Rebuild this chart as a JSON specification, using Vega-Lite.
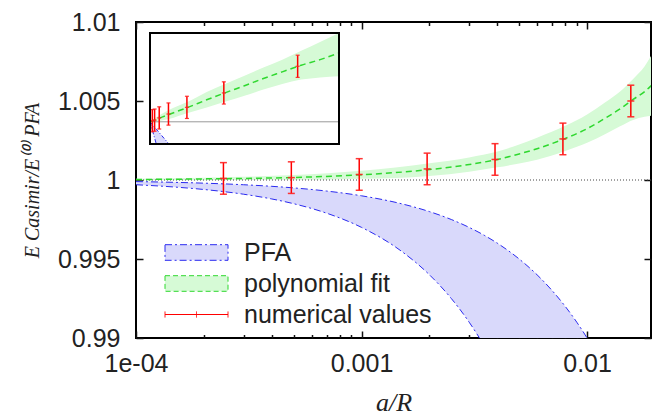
{
  "$schema": "https://vega.github.io/schema/vega-lite/v6.json",
  "width": 515,
  "height": 316,
  "autosize": {"type": "none"},
  "padding": {"left": 136, "top": 22, "right": 1, "bottom": 82},
  "background": "white",
  "config": {
    "view": {"stroke": "black", "strokeWidth": 2},
    "axis": {
      "domain": false, "grid": false,
      "labelFont": "Liberation Sans", "labelFontSize": 25, "labelColor": "#222",
      "tickColor": "#111", "tickWidth": 1.5,
      "titleFont": "Liberation Serif", "titleFontStyle": "italic", "titleFontWeight": "normal", "titleColor": "#222"
    },
    "legend": {
      "orient": "none", "legendX": 48, "legendY": 218, "padding": 0,
      "labelFont": "Liberation Sans", "labelFontSize": 25, "labelColor": "#222", "labelLimit": 400,
      "symbolSize": 400, "symbolStrokeWidth": 1, "rowPadding": 5, "labelOffset": 35
    }
  },
  "datasets": {
    "pfa": [
      {"x": 0.0001, "hi": 0.9999, "lo": 0.9997},
      {"x": 0.00015, "hi": 0.99985, "lo": 0.99955},
      {"x": 0.0002, "hi": 0.9998, "lo": 0.9994},
      {"x": 0.0003, "hi": 0.9997, "lo": 0.9991},
      {"x": 0.0004, "hi": 0.9996, "lo": 0.9988},
      {"x": 0.0005, "hi": 0.9995, "lo": 0.9985},
      {"x": 0.0007, "hi": 0.9993, "lo": 0.9979},
      {"x": 0.001, "hi": 0.999, "lo": 0.997},
      {"x": 0.0015, "hi": 0.9985, "lo": 0.9955},
      {"x": 0.002, "hi": 0.998, "lo": 0.994},
      {"x": 0.0025, "hi": 0.9975, "lo": 0.9925},
      {"x": 0.003, "hi": 0.997, "lo": 0.991},
      {"x": 0.0035, "hi": 0.9965, "lo": 0.9895},
      {"x": 0.004, "hi": 0.996, "lo": 0.988},
      {"x": 0.005, "hi": 0.995, "lo": 0.985},
      {"x": 0.006, "hi": 0.994, "lo": 0.982},
      {"x": 0.007, "hi": 0.993, "lo": 0.979},
      {"x": 0.008, "hi": 0.992, "lo": 0.976},
      {"x": 0.009, "hi": 0.991, "lo": 0.973},
      {"x": 0.01, "hi": 0.99, "lo": 0.97},
      {"x": 0.011, "hi": 0.989, "lo": 0.967}
    ],
    "fit": [
      {"x": 0.0001, "fit": 1.00003, "lo": 0.99998, "hi": 1.00008},
      {"x": 0.0002, "fit": 1.00007, "lo": 0.99999, "hi": 1.00015},
      {"x": 0.0005, "fit": 1.00016, "lo": 1.00001, "hi": 1.00031},
      {"x": 0.001, "fit": 1.00033, "lo": 1.00008, "hi": 1.00058},
      {"x": 0.002, "fit": 1.00066, "lo": 1.00026, "hi": 1.00106},
      {"x": 0.003, "fit": 1.00098, "lo": 1.00053, "hi": 1.00143},
      {"x": 0.004, "fit": 1.0013, "lo": 1.0008, "hi": 1.0018},
      {"x": 0.005, "fit": 1.00165, "lo": 1.00105, "hi": 1.00225},
      {"x": 0.006, "fit": 1.00198, "lo": 1.00128, "hi": 1.00268},
      {"x": 0.008, "fit": 1.00263, "lo": 1.00183, "hi": 1.00343},
      {"x": 0.01, "fit": 1.00325, "lo": 1.00235, "hi": 1.00415},
      {"x": 0.012, "fit": 1.0039, "lo": 1.0029, "hi": 1.0049},
      {"x": 0.014, "fit": 1.0045, "lo": 1.0034, "hi": 1.0056},
      {"x": 0.016, "fit": 1.0051, "lo": 1.0038, "hi": 1.0064},
      {"x": 0.018, "fit": 1.0056, "lo": 1.004, "hi": 1.0072},
      {"x": 0.02, "fit": 1.0062, "lo": 1.0041, "hi": 1.0083}
    ],
    "fitInset": [
      {"x": 0, "fit": 1.0, "lo": 1.0, "hi": 1.0},
      {"x": 0.001, "fit": 1.00033, "lo": 1.00008, "hi": 1.00058},
      {"x": 0.002, "fit": 1.00066, "lo": 1.00026, "hi": 1.00106},
      {"x": 0.004, "fit": 1.0013, "lo": 1.0008, "hi": 1.0018},
      {"x": 0.006, "fit": 1.00198, "lo": 1.00128, "hi": 1.00268},
      {"x": 0.008, "fit": 1.00263, "lo": 1.00183, "hi": 1.00343},
      {"x": 0.01, "fit": 1.00325, "lo": 1.00235, "hi": 1.00415},
      {"x": 0.012, "fit": 1.0039, "lo": 1.0029, "hi": 1.0049},
      {"x": 0.014, "fit": 1.0045, "lo": 1.0034, "hi": 1.0056},
      {"x": 0.016, "fit": 1.0051, "lo": 1.0038, "hi": 1.0064},
      {"x": 0.018, "fit": 1.0056, "lo": 1.004, "hi": 1.0072},
      {"x": 0.02, "fit": 1.0062, "lo": 1.0041, "hi": 1.008}
    ],
    "pfaInset": [
      {"x": 0, "hi": 1.0, "lo": 1.0, "loLine": 1.0},
      {"x": 0.000667, "hi": 0.99933, "lo": 0.998, "loLine": 0.998},
      {"x": 0.002, "hi": 0.998, "lo": 0.998, "loLine": null}
    ],
    "num": [
      {"x": 0.000244140625, "y": 1.0001, "lo": 0.9991, "hi": 1.0011},
      {"x": 0.00048828125, "y": 1.00015, "lo": 0.99915, "hi": 1.00115},
      {"x": 0.0009765625, "y": 1.00035, "lo": 0.99935, "hi": 1.00135},
      {"x": 0.001953125, "y": 1.0007, "lo": 0.9997, "hi": 1.0017},
      {"x": 0.00390625, "y": 1.0013, "lo": 1.0003, "hi": 1.0023},
      {"x": 0.0078125, "y": 1.0026, "lo": 1.0016, "hi": 1.0036},
      {"x": 0.015625, "y": 1.005, "lo": 1.004, "hi": 1.006}
    ],
    "legend": [
      {"series": "PFA", "x": 0.00001, "y": 1.0},
      {"series": "polynomial fit", "x": 0.00001, "y": 1.0},
      {"series": "numerical values", "x": 0.00001, "y": 1.0}
    ],
    "one": [{"y": 1.0}],
    "insetBox": [{"x0": 0, "x1": 0.02, "y0": 0.998, "y1": 1.008, "yref": 1.0}]
  },
  "layer": [
    {
      "layer": [
        {
          "data": {"name": "pfa"},
          "mark": {"type": "area", "color": "#d9d9fb", "clip": true, "interpolate": "monotone"},
          "encoding": {
            "x": {"field": "x", "type": "quantitative",
              "scale": {"type": "log", "domain": [0.0001, 0.0192], "nice": false},
              "axis": {
                "orient": "bottom",
                "values": [0.0001, 0.0002, 0.0003, 0.0004, 0.0005, 0.0006, 0.0007, 0.0008, 0.0009, 0.001, 0.002, 0.003, 0.004, 0.005, 0.006, 0.007, 0.008, 0.009, 0.01],
                "labelExpr": "datum.value == 0.0001 ? '1e-04' : datum.value == 0.001 ? '0.001' : datum.value == 0.01 ? '0.01' : ''",
                "tickSize": {"condition": {"test": "indexof([0.0001, 0.001, 0.01], datum.value) >= 0", "value": -7}, "value": -3.5},
                "labelPadding": 20, "labelFlush": false, "labelOverlap": false, "labelBound": false,
                "title": "a/R", "titleFontSize": 26, "titlePadding": 10
              }
            },
            "y": {"field": "lo", "type": "quantitative",
              "scale": {"domain": [0.99, 1.01], "nice": false, "zero": false},
              "axis": {
                "orient": "left",
                "values": [0.99, 0.995, 1.0, 1.005, 1.01],
                "format": "~g",
                "tickSize": -7, "labelPadding": 23, "labelFlush": false, "labelOverlap": false,
                "title": "E Casimir/E⁽⁰⁾ PFA", "titleFontSize": 20, "titlePadding": 15
              }
            },
            "y2": {"field": "hi"}
          }
        },
        {
          "data": {"name": "fit"},
          "mark": {"type": "area", "color": "#d6fad6", "clip": true, "interpolate": "monotone"},
          "encoding": {
            "x": {"field": "x", "type": "quantitative", "scale": {"type": "log", "domain": [0.0001, 0.0192], "nice": false}, "axis": null},
            "y": {"field": "lo", "type": "quantitative", "scale": {"domain": [0.99, 1.01], "nice": false, "zero": false}, "axis": null},
            "y2": {"field": "hi"}
          }
        },
        {
          "data": {"name": "pfa"},
          "mark": {"type": "line", "color": "#2a2af0", "strokeWidth": 1, "strokeDash": [7, 3, 2, 3], "clip": true, "interpolate": "monotone"},
          "encoding": {
            "x": {"field": "x", "type": "quantitative", "scale": {"type": "log", "domain": [0.0001, 0.0192], "nice": false}, "axis": null},
            "y": {"field": "hi", "type": "quantitative", "scale": {"domain": [0.99, 1.01], "nice": false, "zero": false}, "axis": null}
          }
        },
        {
          "data": {"name": "pfa"},
          "mark": {"type": "line", "color": "#2a2af0", "strokeWidth": 1, "strokeDash": [7, 3, 2, 3], "clip": true, "interpolate": "monotone"},
          "encoding": {
            "x": {"field": "x", "type": "quantitative", "scale": {"type": "log", "domain": [0.0001, 0.0192], "nice": false}, "axis": null},
            "y": {"field": "lo", "type": "quantitative", "scale": {"domain": [0.99, 1.01], "nice": false, "zero": false}, "axis": null}
          }
        },
        {
          "data": {"name": "one"},
          "mark": {"type": "rule", "color": "#444", "strokeWidth": 1, "strokeDash": [1, 2]},
          "encoding": {
            "y": {"field": "y", "type": "quantitative", "scale": {"domain": [0.99, 1.01], "nice": false, "zero": false}, "axis": null}
          }
        },
        {
          "data": {"name": "fit"},
          "mark": {"type": "line", "color": "#2fd82f", "strokeWidth": 1.5, "strokeDash": [6, 4], "clip": true, "interpolate": "monotone"},
          "encoding": {
            "x": {"field": "x", "type": "quantitative", "scale": {"type": "log", "domain": [0.0001, 0.0192], "nice": false},
              "axis": {
                "orient": "top",
                "values": [0.0001, 0.0002, 0.0003, 0.0004, 0.0005, 0.0006, 0.0007, 0.0008, 0.0009, 0.001, 0.002, 0.003, 0.004, 0.005, 0.006, 0.007, 0.008, 0.009, 0.01],
                "labels": false,
                "tickSize": {"condition": {"test": "indexof([0.0001, 0.001, 0.01], datum.value) >= 0", "value": -7}, "value": -3.5},
                "title": null
              }
            },
            "y": {"field": "fit", "type": "quantitative", "scale": {"domain": [0.99, 1.01], "nice": false, "zero": false},
              "axis": {"orient": "right", "values": [0.99, 0.995, 1.0, 1.005, 1.01], "labels": false, "tickSize": -7, "title": null}
            }
          }
        },
        {
          "data": {"name": "num"},
          "mark": {"type": "rule", "color": "#ff0000", "strokeWidth": 1.5},
          "encoding": {
            "x": {"field": "x", "type": "quantitative", "scale": {"type": "log", "domain": [0.0001, 0.0192], "nice": false}, "axis": null},
            "y": {"field": "lo", "type": "quantitative", "scale": {"domain": [0.99, 1.01], "nice": false, "zero": false}, "axis": null},
            "y2": {"field": "hi"}
          }
        },
        {
          "data": {"name": "num"},
          "mark": {"type": "tick", "orient": "horizontal", "color": "#ff2020", "size": 7, "thickness": 1.5, "opacity": 0.9},
          "encoding": {
            "x": {"field": "x", "type": "quantitative", "scale": {"type": "log", "domain": [0.0001, 0.0192], "nice": false}, "axis": null},
            "y": {"field": "lo", "type": "quantitative", "scale": {"domain": [0.99, 1.01], "nice": false, "zero": false}, "axis": null}
          }
        },
        {
          "data": {"name": "num"},
          "mark": {"type": "tick", "orient": "horizontal", "color": "#ff2020", "size": 7, "thickness": 1.5, "opacity": 0.9},
          "encoding": {
            "x": {"field": "x", "type": "quantitative", "scale": {"type": "log", "domain": [0.0001, 0.0192], "nice": false}, "axis": null},
            "y": {"field": "hi", "type": "quantitative", "scale": {"domain": [0.99, 1.01], "nice": false, "zero": false}, "axis": null}
          }
        },
        {
          "data": {"name": "num"},
          "mark": {"type": "tick", "orient": "horizontal", "color": "#ff2020", "size": 7, "thickness": 1.5, "opacity": 0.9},
          "encoding": {
            "x": {"field": "x", "type": "quantitative", "scale": {"type": "log", "domain": [0.0001, 0.0192], "nice": false}, "axis": null},
            "y": {"field": "y", "type": "quantitative", "scale": {"domain": [0.99, 1.01], "nice": false, "zero": false}, "axis": null}
          }
        },
        {
          "data": {"name": "legend"},
          "mark": {"type": "point", "clip": true, "opacity": 1, "strokeWidth": 1},
          "encoding": {
            "x": {"field": "x", "type": "quantitative", "scale": {"type": "log", "domain": [0.0001, 0.0192], "nice": false}, "axis": null},
            "y": {"field": "y", "type": "quantitative", "scale": {"domain": [0.99, 1.01], "nice": false, "zero": false}, "axis": null},
            "shape": {"field": "series", "type": "nominal", "title": null,
              "scale": {"domain": ["PFA", "polynomial fit", "numerical values"],
                "range": ["M-3.15,-0.78H3.15V0.78H-3.15Z", "M-3.15,-0.78H3.15V0.78H-3.15Z", "M-3.15,0H3.15M-3.15,-0.3V0.3M0,-0.3V0.3M3.15,-0.3V0.3"]}},
            "fill": {"field": "series", "type": "nominal", "title": null,
              "scale": {"domain": ["PFA", "polynomial fit", "numerical values"], "range": ["#d9d9fb", "#d6fad6", "transparent"]}},
            "stroke": {"field": "series", "type": "nominal", "title": null,
              "scale": {"domain": ["PFA", "polynomial fit", "numerical values"], "range": ["#2a2af0", "#2fd82f", "#ff0000"]}},
            "strokeDash": {"field": "series", "type": "nominal", "title": null,
              "scale": {"domain": ["PFA", "polynomial fit", "numerical values"], "range": [[7, 3, 2, 3], [5, 3], [1, 0]]}}
          }
        }
      ],
      "resolve": {"axis": {"x": "independent", "y": "independent"}}
    },
    {
      "layer": [
        {
          "data": {"name": "insetBox"},
          "mark": {"type": "rect", "fill": "white"},
          "encoding": {
            "x": {"field": "x0", "type": "quantitative", "scale": {"domain": [0, 0.02], "range": [14, 203], "nice": false, "zero": false}, "axis": null},
            "x2": {"field": "x1"},
            "y": {"field": "y0", "type": "quantitative", "scale": {"domain": [0.998, 1.008], "range": [122, 11], "nice": false, "zero": false}, "axis": null},
            "y2": {"field": "y1"}
          }
        },
        {
          "data": {"name": "pfaInset"},
          "mark": {"type": "area", "color": "#d9d9fb"},
          "encoding": {
            "x": {"field": "x", "type": "quantitative", "scale": {"domain": [0, 0.02], "range": [14, 203], "nice": false, "zero": false}, "axis": null},
            "y": {"field": "lo", "type": "quantitative", "scale": {"domain": [0.998, 1.008], "range": [122, 11], "nice": false, "zero": false}, "axis": null},
            "y2": {"field": "hi"}
          }
        },
        {
          "data": {"name": "fitInset"},
          "mark": {"type": "area", "color": "#d6fad6", "interpolate": "monotone"},
          "encoding": {
            "x": {"field": "x", "type": "quantitative", "scale": {"domain": [0, 0.02], "range": [14, 203], "nice": false, "zero": false}, "axis": null},
            "y": {"field": "lo", "type": "quantitative", "scale": {"domain": [0.998, 1.008], "range": [122, 11], "nice": false, "zero": false}, "axis": null},
            "y2": {"field": "hi"}
          }
        },
        {
          "data": {"name": "pfaInset"},
          "mark": {"type": "line", "color": "#2a2af0", "strokeWidth": 1, "strokeDash": [4, 2, 1, 2]},
          "encoding": {
            "x": {"field": "x", "type": "quantitative", "scale": {"domain": [0, 0.02], "range": [14, 203], "nice": false, "zero": false}, "axis": null},
            "y": {"field": "hi", "type": "quantitative", "scale": {"domain": [0.998, 1.008], "range": [122, 11], "nice": false, "zero": false}, "axis": null}
          }
        },
        {
          "data": {"name": "pfaInset"},
          "mark": {"type": "line", "color": "#2a2af0", "strokeWidth": 1, "strokeDash": [4, 2, 1, 2]},
          "encoding": {
            "x": {"field": "x", "type": "quantitative", "scale": {"domain": [0, 0.02], "range": [14, 203], "nice": false, "zero": false}, "axis": null},
            "y": {"field": "loLine", "type": "quantitative", "scale": {"domain": [0.998, 1.008], "range": [122, 11], "nice": false, "zero": false}, "axis": null}
          }
        },
        {
          "data": {"name": "insetBox"},
          "mark": {"type": "rule", "color": "#999", "strokeWidth": 1},
          "encoding": {
            "x": {"field": "x0", "type": "quantitative", "scale": {"domain": [0, 0.02], "range": [14, 203], "nice": false, "zero": false}, "axis": null},
            "x2": {"field": "x1"},
            "y": {"field": "yref", "type": "quantitative", "scale": {"domain": [0.998, 1.008], "range": [122, 11], "nice": false, "zero": false}, "axis": null}
          }
        },
        {
          "data": {"name": "fitInset"},
          "mark": {"type": "line", "color": "#2fd82f", "strokeWidth": 1.5, "strokeDash": [6, 4], "interpolate": "monotone"},
          "encoding": {
            "x": {"field": "x", "type": "quantitative", "scale": {"domain": [0, 0.02], "range": [14, 203], "nice": false, "zero": false}, "axis": null},
            "y": {"field": "fit", "type": "quantitative", "scale": {"domain": [0.998, 1.008], "range": [122, 11], "nice": false, "zero": false}, "axis": null}
          }
        },
        {
          "data": {"name": "num"},
          "mark": {"type": "rule", "color": "#ff0000", "strokeWidth": 1.5},
          "encoding": {
            "x": {"field": "x", "type": "quantitative", "scale": {"domain": [0, 0.02], "range": [14, 203], "nice": false, "zero": false}, "axis": null},
            "y": {"field": "lo", "type": "quantitative", "scale": {"domain": [0.998, 1.008], "range": [122, 11], "nice": false, "zero": false}, "axis": null},
            "y2": {"field": "hi"}
          }
        },
        {
          "data": {"name": "num"},
          "mark": {"type": "tick", "orient": "horizontal", "color": "#ff2020", "size": 4, "thickness": 1.2, "opacity": 0.9},
          "encoding": {
            "x": {"field": "x", "type": "quantitative", "scale": {"domain": [0, 0.02], "range": [14, 203], "nice": false, "zero": false}, "axis": null},
            "y": {"field": "lo", "type": "quantitative", "scale": {"domain": [0.998, 1.008], "range": [122, 11], "nice": false, "zero": false}, "axis": null}
          }
        },
        {
          "data": {"name": "num"},
          "mark": {"type": "tick", "orient": "horizontal", "color": "#ff2020", "size": 4, "thickness": 1.2, "opacity": 0.9},
          "encoding": {
            "x": {"field": "x", "type": "quantitative", "scale": {"domain": [0, 0.02], "range": [14, 203], "nice": false, "zero": false}, "axis": null},
            "y": {"field": "hi", "type": "quantitative", "scale": {"domain": [0.998, 1.008], "range": [122, 11], "nice": false, "zero": false}, "axis": null}
          }
        },
        {
          "data": {"name": "num"},
          "mark": {"type": "tick", "orient": "horizontal", "color": "#ff2020", "size": 4, "thickness": 1.2, "opacity": 0.9},
          "encoding": {
            "x": {"field": "x", "type": "quantitative", "scale": {"domain": [0, 0.02], "range": [14, 203], "nice": false, "zero": false}, "axis": null},
            "y": {"field": "y", "type": "quantitative", "scale": {"domain": [0.998, 1.008], "range": [122, 11], "nice": false, "zero": false}, "axis": null}
          }
        },
        {
          "data": {"name": "insetBox"},
          "mark": {"type": "rect", "fill": null, "fillOpacity": 0, "stroke": "black", "strokeWidth": 2},
          "encoding": {
            "x": {"field": "x0", "type": "quantitative", "scale": {"domain": [0, 0.02], "range": [14, 203], "nice": false, "zero": false}, "axis": null},
            "x2": {"field": "x1"},
            "y": {"field": "y0", "type": "quantitative", "scale": {"domain": [0.998, 1.008], "range": [122, 11], "nice": false, "zero": false}, "axis": null},
            "y2": {"field": "y1"}
          }
        }
      ]
    }
  ],
  "resolve": {"scale": {"x": "independent", "y": "independent"}}
}
